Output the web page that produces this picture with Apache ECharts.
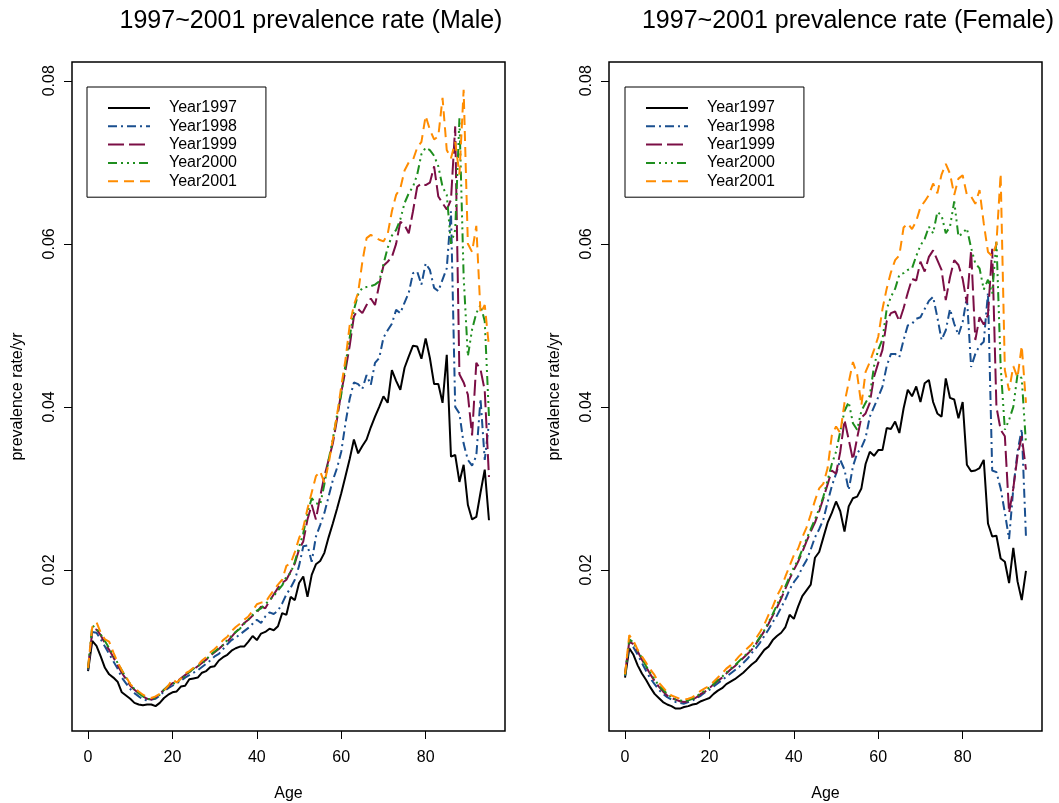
<!DOCTYPE html>
<html><head><meta charset="utf-8">
<script src="https://cdn.jsdelivr.net/npm/echarts@6/dist/echarts.min.js"></script>
<style>html,body{margin:0;padding:0;background:#fff}#c{width:1059px;height:803px}</style>
</head><body><div id="c"></div>
<script>
const ages = [0,1,2,3,4,5,6,7,8,9,10,11,12,13,14,15,16,17,18,19,20,21,22,23,24,25,26,27,28,29,30,31,32,33,34,35,36,37,38,39,40,41,42,43,44,45,46,47,48,49,50,51,52,53,54,55,56,57,58,59,60,61,62,63,64,65,66,67,68,69,70,71,72,73,74,75,76,77,78,79,80,81,82,83,84,85,86,87,88,89,90,91,92,93,94,95];
const years = ['Year1997','Year1998','Year1999','Year2000','Year2001'];
const xTicks = [0,20,40,60,80];
const yTicks = [0.02,0.04,0.06,0.08];
const titles = ['1997~2001 prevalence rate (Male)','1997~2001 prevalence rate (Female)'];

const m1997 = [0.0076,0.0113,0.0107,0.0094,0.0080,0.0072,0.0068,0.0063,0.0050,0.0046,
 0.0042,0.0037,0.0035,0.0034,0.0035,0.0035,0.0033,0.0037,0.0043,0.0047,
 0.0050,0.0051,0.0057,0.0058,0.0066,0.0067,0.0068,0.0074,0.0076,0.0081,
 0.0082,0.0089,0.0093,0.0096,0.0101,0.0104,0.0106,0.0106,0.0112,0.0119,
 0.0114,0.0122,0.0124,0.0128,0.0126,0.0131,0.0147,0.0145,0.0167,0.0163,
 0.0184,0.0192,0.0167,0.0194,0.0207,0.0211,0.0221,0.0240,0.0257,0.0275,
 0.0294,0.0315,0.0336,0.0360,0.0343,0.0352,0.0360,0.0375,0.0388,0.0400,
 0.0413,0.0405,0.0445,0.0432,0.0421,0.0448,0.0462,0.0475,0.0474,0.0459,
 0.0484,0.0460,0.0428,0.0428,0.0405,0.0464,0.0339,0.0341,0.0308,0.0329,
 0.0280,0.0262,0.0265,0.0295,0.0323,0.0261];
const m1998 = [0.0077,0.0124,0.0123,0.0115,0.0106,0.0097,0.0088,0.0079,0.0068,0.0061,
 0.0054,0.0049,0.0045,0.0041,0.0040,0.0041,0.0042,0.0046,0.0051,0.0055,
 0.0058,0.0061,0.0064,0.0068,0.0071,0.0074,0.0077,0.0081,0.0085,0.0089,
 0.0094,0.0097,0.0103,0.0109,0.0114,0.0117,0.0121,0.0125,0.0129,0.0134,
 0.0139,0.0135,0.0143,0.0148,0.0146,0.0150,0.0159,0.0170,0.0178,0.0188,
 0.0205,0.0229,0.0230,0.0210,0.0241,0.0255,0.0270,0.0290,0.0310,0.0325,
 0.0345,0.0380,0.0410,0.0430,0.0428,0.0422,0.0439,0.0427,0.0454,0.0460,
 0.0485,0.0494,0.0502,0.0519,0.0515,0.0528,0.0540,0.0564,0.0566,0.0550,
 0.0576,0.0568,0.0546,0.0542,0.0556,0.0570,0.0640,0.0400,0.0392,0.0355,
 0.0335,0.0328,0.0340,0.0410,0.0335,0.0380];
const m1999 = [0.0078,0.0125,0.0127,0.0120,0.0110,0.0102,0.0093,0.0083,0.0074,0.0066,
 0.0058,0.0053,0.0049,0.0045,0.0042,0.0041,0.0044,0.0048,0.0053,0.0057,
 0.0061,0.0063,0.0067,0.0071,0.0075,0.0078,0.0082,0.0086,0.0090,0.0095,
 0.0099,0.0103,0.0108,0.0112,0.0118,0.0124,0.0129,0.0135,0.0139,0.0144,
 0.0148,0.0155,0.0153,0.0162,0.0170,0.0178,0.0184,0.0188,0.0198,0.0208,
 0.0225,0.0235,0.0262,0.0280,0.0262,0.0290,0.0315,0.0335,0.0355,0.0385,
 0.0418,0.0445,0.0475,0.0511,0.0520,0.0515,0.0525,0.0533,0.0525,0.0550,
 0.0573,0.0578,0.0584,0.0600,0.0627,0.0623,0.0613,0.0640,0.0670,0.0674,
 0.0672,0.0675,0.0695,0.0658,0.0650,0.0642,0.0654,0.0744,0.0440,0.0430,
 0.0415,0.0365,0.0454,0.0446,0.0420,0.0314];
const m2000 = [0.0079,0.0132,0.0128,0.0121,0.0113,0.0104,0.0096,0.0086,0.0077,0.0068,
 0.0060,0.0054,0.0049,0.0045,0.0042,0.0041,0.0043,0.0047,0.0053,0.0058,
 0.0060,0.0062,0.0066,0.0070,0.0075,0.0079,0.0082,0.0085,0.0090,0.0096,
 0.0100,0.0104,0.0108,0.0114,0.0119,0.0124,0.0128,0.0134,0.0139,0.0145,
 0.0150,0.0153,0.0158,0.0163,0.0168,0.0175,0.0181,0.0192,0.0196,0.0210,
 0.0228,0.0245,0.0270,0.0288,0.0282,0.0280,0.0305,0.0335,0.0360,0.0390,
 0.0415,0.0452,0.0485,0.0519,0.0538,0.0546,0.0547,0.0548,0.0550,0.0554,
 0.0575,0.0595,0.0610,0.0617,0.0630,0.0650,0.0662,0.0670,0.0685,0.0710,
 0.0718,0.0715,0.0708,0.0695,0.0670,0.0660,0.0600,0.0617,0.0754,0.0560,
 0.0462,0.0495,0.0515,0.0525,0.0505,0.0388];
const m2001 = [0.0080,0.0130,0.0136,0.0123,0.0115,0.0112,0.0099,0.0087,0.0077,0.0069,
 0.0060,0.0055,0.0051,0.0047,0.0044,0.0043,0.0045,0.0048,0.0052,0.0058,
 0.0066,0.0062,0.0067,0.0073,0.0076,0.0080,0.0083,0.0089,0.0093,0.0099,
 0.0103,0.0108,0.0114,0.0118,0.0125,0.0130,0.0134,0.0139,0.0143,0.0150,
 0.0158,0.0160,0.0160,0.0168,0.0175,0.0182,0.0188,0.0205,0.0208,0.0222,
 0.0239,0.0252,0.0275,0.0295,0.0315,0.0321,0.0307,0.0330,0.0360,0.0390,
 0.0425,0.0458,0.0500,0.0525,0.0540,0.0578,0.0607,0.0611,0.0608,0.0605,
 0.0603,0.0612,0.0640,0.0660,0.0668,0.0690,0.0700,0.0703,0.0718,0.0725,
 0.0757,0.0740,0.0728,0.0732,0.0779,0.0715,0.0705,0.0725,0.0685,0.0789,
 0.0600,0.0590,0.0622,0.0515,0.0525,0.0474];

const f1997 = [0.0068,0.0104,0.0096,0.0083,0.0073,0.0065,0.0056,0.0048,0.0043,0.0038,
 0.0035,0.0033,0.0030,0.0030,0.0032,0.0033,0.0035,0.0036,0.0039,0.0041,
 0.0043,0.0048,0.0052,0.0055,0.0060,0.0063,0.0066,0.0070,0.0074,0.0079,
 0.0084,0.0088,0.0095,0.0102,0.0106,0.0114,0.0119,0.0123,0.0130,0.0145,
 0.0140,0.0155,0.0168,0.0175,0.0182,0.0215,0.0222,0.0240,0.0258,0.0270,
 0.0284,0.0272,0.0247,0.0278,0.0288,0.0290,0.0300,0.0330,0.0345,0.0340,
 0.0347,0.0347,0.0374,0.0373,0.0382,0.0368,0.0398,0.0421,0.0413,0.0425,
 0.0406,0.0429,0.0433,0.0406,0.0392,0.0388,0.0435,0.0411,0.0409,0.0386,
 0.0406,0.0329,0.0321,0.0322,0.0325,0.0335,0.0257,0.0241,0.0242,0.0214,
 0.0210,0.0184,0.0227,0.0186,0.0163,0.0199];
const f1998 = [0.0070,0.0110,0.0105,0.0096,0.0086,0.0076,0.0067,0.0060,0.0053,0.0048,
 0.0044,0.0041,0.0038,0.0037,0.0036,0.0038,0.0040,0.0043,0.0046,0.0050,
 0.0053,0.0057,0.0061,0.0065,0.0069,0.0073,0.0077,0.0081,0.0086,0.0091,
 0.0098,0.0104,0.0111,0.0119,0.0127,0.0136,0.0144,0.0154,0.0164,0.0176,
 0.0185,0.0192,0.0203,0.0212,0.0225,0.0240,0.0250,0.0262,0.0283,0.0303,
 0.0318,0.0335,0.0323,0.0298,0.0327,0.0343,0.0350,0.0362,0.0388,0.0400,
 0.0412,0.0425,0.0450,0.0465,0.0465,0.0461,0.0482,0.0500,0.0502,0.0508,
 0.0510,0.0520,0.0530,0.0535,0.0510,0.0482,0.0494,0.0520,0.0502,0.0488,
 0.0504,0.0535,0.0449,0.0465,0.0475,0.0480,0.0540,0.0322,0.0320,0.0300,
 0.0270,0.0238,0.0300,0.0345,0.0373,0.0241];
const f1999 = [0.0073,0.0112,0.0109,0.0100,0.0090,0.0081,0.0072,0.0064,0.0057,0.0051,
 0.0046,0.0043,0.0041,0.0039,0.0038,0.0039,0.0041,0.0044,0.0048,0.0051,
 0.0055,0.0060,0.0064,0.0068,0.0073,0.0078,0.0082,0.0087,0.0092,0.0097,
 0.0102,0.0109,0.0117,0.0125,0.0134,0.0144,0.0154,0.0165,0.0177,0.0189,
 0.0200,0.0210,0.0222,0.0235,0.0247,0.0258,0.0272,0.0288,0.0305,0.0322,
 0.0318,0.0345,0.0384,0.0360,0.0335,0.0362,0.0387,0.0392,0.0405,0.0437,
 0.0454,0.0470,0.0505,0.0515,0.0517,0.0505,0.0521,0.0540,0.0557,0.0555,
 0.0578,0.0566,0.0584,0.0592,0.0580,0.0568,0.0531,0.0559,0.0580,0.0574,
 0.0557,0.0527,0.0592,0.0482,0.0510,0.0501,0.0513,0.0594,0.0400,0.0372,
 0.0364,0.0270,0.0300,0.0340,0.0364,0.0323];
const f2000 = [0.0071,0.0115,0.0111,0.0101,0.0092,0.0082,0.0074,0.0066,0.0058,0.0053,
 0.0048,0.0044,0.0041,0.0040,0.0039,0.0040,0.0042,0.0045,0.0049,0.0052,
 0.0056,0.0060,0.0065,0.0069,0.0074,0.0079,0.0083,0.0088,0.0093,0.0098,
 0.0103,0.0110,0.0118,0.0126,0.0136,0.0146,0.0157,0.0168,0.0180,0.0192,
 0.0203,0.0212,0.0225,0.0238,0.0250,0.0262,0.0275,0.0290,0.0310,0.0330,
 0.0345,0.0370,0.0395,0.0406,0.0380,0.0372,0.0395,0.0405,0.0414,0.0450,
 0.0470,0.0483,0.0520,0.0535,0.0545,0.0562,0.0564,0.0568,0.0570,0.0585,
 0.0598,0.0606,0.0621,0.0613,0.0639,0.0635,0.0613,0.0621,0.0652,0.0609,
 0.0613,0.0619,0.0595,0.0576,0.0570,0.0544,0.0556,0.0539,0.0604,0.0450,
 0.0372,0.0384,0.0400,0.0440,0.0435,0.0355];
const f2001 = [0.0072,0.0120,0.0113,0.0102,0.0094,0.0086,0.0078,0.0071,0.0062,0.0056,
 0.0050,0.0046,0.0044,0.0042,0.0041,0.0042,0.0044,0.0048,0.0052,0.0055,
 0.0058,0.0063,0.0068,0.0073,0.0079,0.0083,0.0088,0.0094,0.0099,0.0104,
 0.0109,0.0116,0.0124,0.0133,0.0145,0.0155,0.0168,0.0178,0.0192,0.0205,
 0.0218,0.0226,0.0240,0.0252,0.0268,0.0285,0.0300,0.0306,0.0325,0.0365,
 0.0376,0.0368,0.0405,0.0430,0.0455,0.0440,0.0402,0.0443,0.0455,0.0470,
 0.0486,0.0520,0.0545,0.0565,0.0580,0.0586,0.0620,0.0625,0.0618,0.0628,
 0.0645,0.0652,0.0660,0.0674,0.0662,0.0685,0.0698,0.0686,0.0660,0.0680,
 0.0684,0.0660,0.0658,0.0649,0.0666,0.0625,0.0590,0.0585,0.0600,0.0686,
 0.0445,0.0420,0.0450,0.0436,0.0475,0.0405];

const panels = [[m1997,m1998,m1999,m2000,m2001],[f1997,f1998,f1999,f2000,f2001]];
const colors = ['#000000','#1A4F8F','#7B0E45','#1E8E1E','#FF8C00'];
const dashes = ['solid',[9,4,2,4],[16,5],[9,4,2,4,2,4,2,4],[10,6]];
const FONT = 'Liberation Sans, Arial, Helvetica, sans-serif';
const gridLeft = [72,609];
const titleCenter = [311,848];
const legendLeft = [87,625];

const chart = echarts.init(document.getElementById('c'), null, {renderer:'canvas'});
const series = [];
panels.forEach((vals,p)=>{
  vals.forEach((arr,i)=>{
    series.push({
      type:'line', name:years[i], xAxisIndex:p, yAxisIndex:p,
      data: ages.map((a,k)=>[a,arr[k]]),
      symbol:'none', showSymbol:false, animation:false,
      lineStyle:{color:colors[i], width:2, type:dashes[i]},
      itemStyle:{color:colors[i]}
    });
  });
});
chart.setOption({
  backgroundColor:'#fff',
  animation:false,
  title: [0,1].map(p=>({
    text: titles[p], left: titleCenter[p], top: 9, textAlign:'center', padding:0,
    textStyle:{fontSize:25, fontWeight:'normal', color:'#000', fontFamily:FONT}
  })),
  grid: [0,1].map(p=>({
    left: gridLeft[p], top:62, width:433, height:669,
    containLabel:false, outerBoundsMode:'none',
    show:true, borderColor:'#000', borderWidth:1.5, backgroundColor:'transparent'
  })),
  xAxis: [0,1].map(p=>({
    type:'value', gridIndex:p, min:-3.8, max:98.8,
    axisLine:{show:false, onZero:false}, splitLine:{show:false},
    axisTick:{show:true, inside:false, length:8, customValues:xTicks, lineStyle:{color:'#000', width:1}},
    axisLabel:{show:true, customValues:xTicks, margin:19, fontSize:16, color:'#000', fontFamily:FONT},
    name:'Age', nameLocation:'middle', nameGap:55,
    nameTextStyle:{fontSize:16, color:'#000', fontFamily:FONT}
  })),
  yAxis: [0,1].map(p=>({
    type:'value', gridIndex:p, min:0.00025, max:0.0823,
    axisLine:{show:false, onZero:false}, splitLine:{show:false},
    axisTick:{show:true, inside:false, length:8, customValues:yTicks, lineStyle:{color:'#000', width:1}},
    axisLabel:{show:true, customValues:yTicks, rotate:90, margin:14, fontSize:16, color:'#000', fontFamily:FONT,
      formatter:v=>Number(v).toFixed(2)},
    name:'prevalence rate/yr', nameLocation:'middle', nameGap:46,
    nameTextStyle:{fontSize:16, color:'#000', fontFamily:FONT}
  })),
  legend: [0,1].map(p=>({
    left: legendLeft[p], top:87, orient:'vertical', data:years, selectedMode:false,
    itemWidth:42, itemHeight:12, itemGap:2.3,
    itemStyle:{opacity:0},
    padding:[13,29,8,20], borderColor:'#000', borderWidth:1, backgroundColor:'#fff',
    textStyle:{fontSize:16, lineHeight:16, color:'#000', fontFamily:FONT, padding:[0,0,0,14]}
  })),
  series: series
});
</script></body></html>
